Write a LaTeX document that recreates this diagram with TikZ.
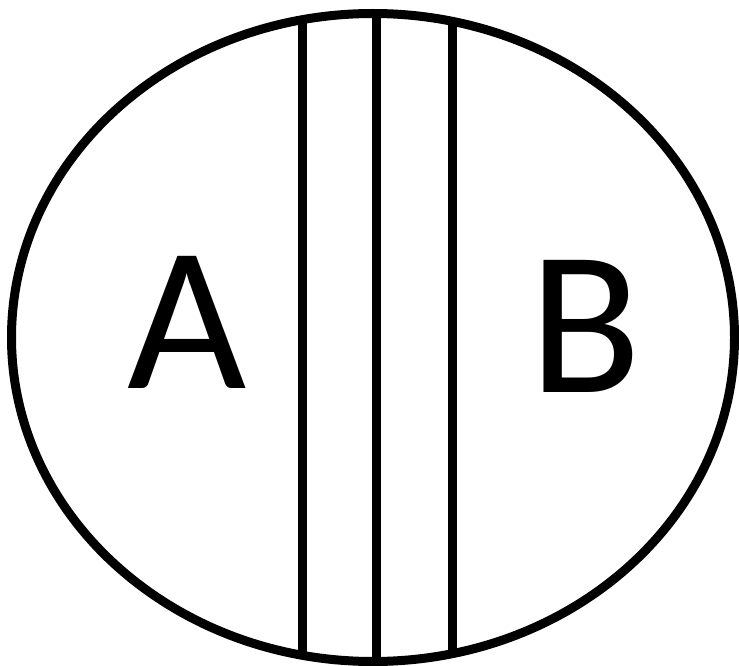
\documentclass[tikz,border=0pt]{standalone}
\usepackage{fontspec}
\setmainfont{Carlito}
\begin{document}
\begin{tikzpicture}[x=1pt,y=-1pt,
    outline/.style={draw=black,line width=9pt},
    letter/.style={anchor=base,inner sep=0pt,font=\fontsize{206}{206}\selectfont}
  ]
  \useasboundingbox (0,0) rectangle (739,666);
  \coordinate (c) at (373,337.5);
  \begin{scope}
    \clip (c) ellipse [x radius=361.5,y radius=324];
    \foreach \xpos in {302,376,452}
      \draw[outline] (\xpos,0) -- (\xpos,666);
  \end{scope}
  \draw[outline] (c) ellipse [x radius=361.5,y radius=324];
  \node[letter] (labelA) at (187,388) {A};
  \node[letter] (labelB) at (585.5,392) {B};
\end{tikzpicture}
\end{document}
